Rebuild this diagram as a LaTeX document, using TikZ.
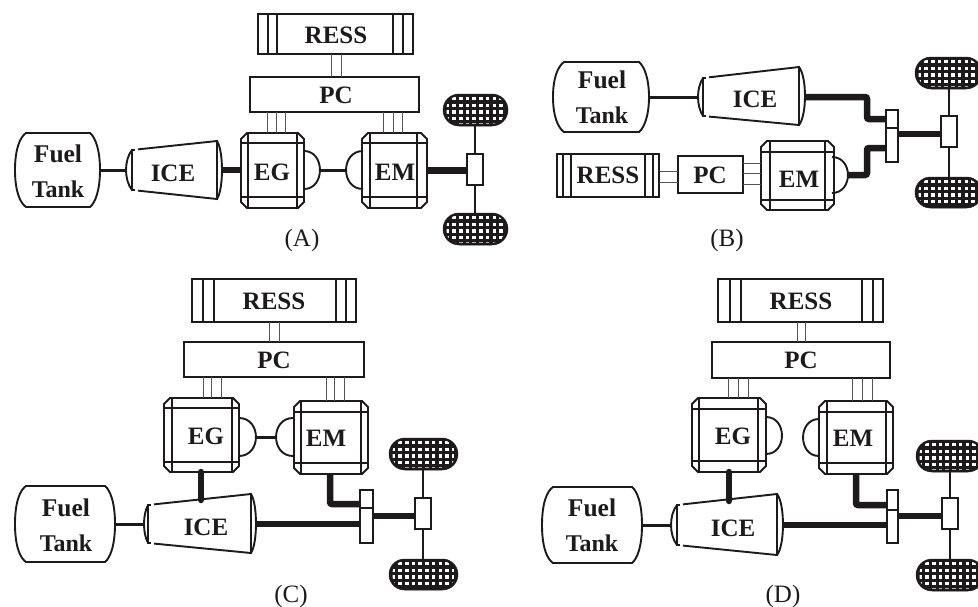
\documentclass[tikz,border=0pt]{standalone}
\usepackage{fontspec}
\setmainfont{Liberation Serif}
\usetikzlibrary{shapes.misc}
\definecolor{ink}{HTML}{1C1A1B}
\tikzset{
  x=1pt,y=-1pt,
  outline/.style={draw=ink,line width=1.9pt},
  wire/.style={draw=ink!75,line width=0.9pt},
  shaftthin/.style={draw=ink,line width=3pt},
  shaftthick/.style={draw=ink,line width=6.5pt,rounded corners=2pt},
  anchorbox/.style={inner sep=0pt,outer sep=0pt},
  lbl/.style={anchor=base,inner sep=0pt,text=ink,font=\fontsize{25}{25}\selectfont\bfseries},
  lblf/.style={lbl,font=\fontsize{25.5}{25}\selectfont\bfseries},
  lblt/.style={lbl,font=\fontsize{24}{24}\selectfont\bfseries},
  captext/.style={anchor=base,inner sep=0pt,text=ink,font=\fontsize{25}{25}\selectfont},
  tyreshape/.style={rounded rectangle,fill=ink,draw=ink,line width=0.5pt,inner sep=0pt,outer sep=0pt},
}
% invisible named block spanning a rectangle
\newcommand\blk[5]{%
  \pgfmathsetmacro\bw{#4-#2}\pgfmathsetmacro\bh{#5-#3}%
  \node[anchorbox,minimum width=\bw pt,minimum height=\bh pt] (#1) at ({(#2+#4)/2},{(#3+#5)/2}) {};}
% plain drawn box: name x1 y1 x2 y2
\newcommand\plainbox[5]{\blk{#1}{#2}{#3}{#4}{#5}\draw[outline] (#2,#3) rectangle (#4,#5);}
% transmission: name x1 y1 x2 y2 ydiv
\newcommand\trans[6]{\plainbox{#1}{#2}{#3}{#4}{#5}\draw[outline] (#2,#6) -- (#4,#6);}
% RESS: name x1 y1 x2 y2 v1 v2 v3 v4
\newcommand\ress[9]{\plainbox{#1}{#2}{#3}{#4}{#5}%
  \draw[outline] (#6,#3)--(#6,#5) (#7,#3)--(#7,#5) (#8,#3)--(#8,#5) (#9,#3)--(#9,#5);}
% fuel tank: name x1 y1 x2 y2
\newcommand\tank[5]{\blk{#1}{#2}{#3}{#4}{#5}%
  \pgfmathsetmacro\tm{(#3+#5)/2}%
  \draw[outline] ({#2+11},#3) -- ({#4-10},#3)
     .. controls ({#4-5},{#3+4}) and (#4,{#3+16}) .. (#4,\tm)
     .. controls (#4,{#5-16}) and ({#4-5},{#5-4}) .. ({#4-10},#5)
     -- ({#2+11},#5)
     .. controls ({#2+5},{#5-4}) and (#2,{#5-16}) .. (#2,\tm)
     .. controls (#2,{#3+16}) and ({#2+5},{#3+4}) .. ({#2+11},#3) -- cycle;
  \draw[draw=ink,line width=2.6pt] ({(#2+#4)/2},#3) -- ({#4-10},#3);}
% machine: name x1 y1 x2 y2 ix1 iy1 ix2 iy2
\newcommand\machine[9]{\blk{#1}{#2}{#3}{#4}{#5}%
  \draw[outline] ({#2+6},#3) -- ({#4-6},#3) -- (#4,{#3+6}) -- (#4,{#5-6}) -- ({#4-6},#5)
     -- ({#2+6},#5) -- (#2,{#5-6}) -- (#2,{#3+6}) -- cycle;
  \draw[outline] (#6,#3)--(#6,#5) (#8,#3)--(#8,#5) (#2,#7)--(#4,#7) (#2,#9)--(#4,#9);}
% dome: name xbase ytop ybot xpeak
\newcommand\dome[5]{%
  \pgfmathsetmacro\dk{#2+1.33*(#5-#2)}%
  \coordinate (#1) at (#5,{(#3+#4)/2});
  \draw[outline] (#2,#3) .. controls (\dk,#3) and (\dk,#4) .. (#2,#4);}
% ICE: name bulgeL xl ytl ybl xr ytr ybr bulgeR
\newcommand\ice[9]{%
  \pgfmathsetmacro\ym{(#4+#5)/2}%
  \pgfmathsetmacro\st{(#7-#4)/(#6-#3)*6}%
  \pgfmathsetmacro\sb{(#8-#5)/(#6-#3)*6}%
  \pgfmathsetmacro\kl{#3+1.33*(#2-#3)}%
  \pgfmathsetmacro\kr{#6+1.33*(#9-#6)}%
  \coordinate (#1L) at (#2,\ym);
  \coordinate (#1R) at (#9,\ym);
  \draw[outline] ({#3+6},{#4+\st}) -- (#6,#7) -- (#6,#8) -- ({#3+6},{#5+\sb});
  \draw[outline] (#6,#7) .. controls (\kr,{#7+10}) and (\kr,{#8-10}) .. (#6,#8);
  \draw[outline] ({#3+2.5},#4) -- (#3,#4) -- (#3,#5) -- ({#3+2.5},#5);
  \draw[outline] (#3,#4) .. controls (\kl,{#4+10}) and (\kl,{#5-10}) .. (#3,#5);}
% tyre: name x1 y1 x2 y2
\newcommand\tyre[5]{%
  \pgfmathsetmacro\bw{#4-#2}\pgfmathsetmacro\bh{#5-#3}%
  \node[tyreshape,minimum width=\bw pt,minimum height=\bh pt] (#1) at ({(#2+#4)/2},{(#3+#5)/2}) {};
  \begin{scope}
    \clip[rounded corners=11pt] ({#2+3.5},{#3+2.5}) rectangle ({#4-3.5},{#5-2.5});
    \foreach \ii in {0,...,9}{\foreach \jj in {0,...,4}{
      \fill[white] ({#2+2.6+\ii*6.7},{#3+2.9+\jj*6.6}) rectangle +(3.5,3.5);}}
  \end{scope}}
% three- or two-wire links
\newcommand\wiresV[3]{\foreach \xx in {#3}{\draw[wire] (\xx,0 |- #1.south) -- (\xx,0 |- #2.north);}}
\newcommand\wiresH[3]{\foreach \yy in {#3}{\draw[wire] (0,\yy -| #1.east) -- (0,\yy -| #2.west);}}
\begin{document}
\begin{tikzpicture}
\clip (0,0) rectangle (978,606);
\useasboundingbox (0,0) rectangle (978,606);
\fill[white] (0,0) rectangle (978,606);

%% ---------- (A)
\ress{ressA}{258}{14}{413}{54}{268}{277}{393}{403}
\plainbox{pcA}{250}{77}{419}{112}
\machine{egA}{241}{133}{304}{208}{248}{143}{297}{197}
\machine{emA}{362}{133}{427}{208}{370}{143}{417}{197}
\dome{egAd}{304}{151}{189}{320}
\dome{emAd}{363}{151}{189}{346}
\tank{tankA}{15}{133}{100}{207}
\ice{iceA}{126}{132}{150}{190}{217}{141}{199}{222}
\plainbox{diffA}{467}{154}{483}{185}
\tyre{tyAt}{443}{94}{508}{126}
\tyre{tyAb}{443}{213}{508}{245}
\wiresV{ressA}{pcA}{331,341}
\wiresV{pcA}{egA}{267,276,285}
\wiresV{pcA}{emA}{383,393,402}
\draw[shaftthin] (tankA.east) -- (iceAL);
\draw[shaftthick] (iceAR) -- (iceAR -| egA.west);
\draw[shaftthin] (egAd) -- (emAd);
\draw[shaftthick] (emA.east) -- (emA.east -| diffA.west);
\draw[outline] (diffA.north) -- (diffA.north |- tyAt.south);
\draw[outline] (diffA.south) -- (diffA.south |- tyAb.north);
\node[lbl] (tRessA) at (336,43) {RESS};
\node[lbl] (tPcA) at (336,103) {PC};
\node[lbl] (tEgA) at (272,180) {EG};
\node[lbl] (tEmA) at (395,180) {EM};
\node[lbl] (tIceA) at (173,181) {ICE};
\node[lblf] (tFuelA) at (58,162) {Fuel};
\node[lblt] (tTankA) at (58,197) {Tank};
\node[captext] (capA) at (302,246) {(A)};

%% ---------- (B)
\tank{tankB}{553}{62}{649}{132}
\ice{iceB}{698}{703}{78}{116}{799}{67}{125}{805}
\ress{ressB}{557}{154}{659}{197}{563}{571}{645}{653}
\plainbox{pcB}{678}{156}{743}{193}
\machine{emB}{761}{141}{834}{210}{770}{152}{825}{200}
\dome{emBd}{832}{157}{193}{848}
\trans{trB}{886}{110}{898}{162}{128}
\plainbox{diffB}{941}{116}{957}{147}
\tyre{tyBt}{915}{57}{982}{89}
\tyre{tyBb}{915}{177}{982}{208}
\draw[shaftthin] (tankB.east) -- (iceBL);
\wiresH{ressB}{pcB}{171,182}
\wiresH{pcB}{emB}{163,173,184}
\coordinate (jB1) at (867,119);
\coordinate (jB2) at (867,148);
\draw[shaftthick] (iceBR) -| (jB1) -- (jB1 -| trB.west);
\draw[shaftthick] (emBd) -| (jB2) -- (jB2 -| trB.west);
\coordinate (jB3) at (898,134);
\draw[shaftthick] (jB3) -- (jB3 -| diffB.west);
\draw[outline] (diffB.north) -- (diffB.north |- tyBt.south);
\draw[outline] (diffB.south) -- (diffB.south |- tyBb.north);
\node[lbl] (tRessB) at (608,183) {RESS};
\node[lbl] (tPcB) at (710,183) {PC};
\node[lbl] (tEmB) at (799,187) {EM};
\node[lbl] (tIceB) at (755,107) {ICE};
\node[lblf] (tFuelB) at (602,88) {Fuel};
\node[lblt] (tTankB) at (602,123) {Tank};
\node[captext] (capB) at (727,246) {(B)};

%% ---------- (C)
\ress{ressC}{192}{279}{356}{322}{203}{214}{336}{346}
\plainbox{pcC}{184}{342}{364}{377}
\machine{egC}{164}{398}{239}{472}{172}{408}{232}{462}
\machine{emC}{294}{401}{368}{474}{301}{412}{361}{463}
\dome{egCd}{239}{418}{456}{256}
\dome{emCd}{293}{418}{456}{276}
\tank{tankC}{15}{486}{115}{562}
\ice{iceC}{144}{148}{505}{543}{251}{494}{553}{256}
\trans{trC}{360}{490}{373}{543}{508}
\plainbox{diffC}{415}{498}{431}{529}
\tyre{tyCt}{389}{438}{458}{470}
\tyre{tyCb}{389}{559}{458}{590}
\wiresV{ressC}{pcC}{269,279}
\wiresV{pcC}{egC}{203,211,221}
\wiresV{pcC}{emC}{326,334,344}
\draw[shaftthin] (tankC.east) -- (iceCL);
\draw[shaftthin] (egCd) -- (emCd);
\coordinate (egoutC) at (201,472);
\coordinate (iceinC) at (201,500);
\draw[shaftthick,line cap=round] (egoutC) -- (iceinC);
\draw[shaftthick] (iceCR) -- (iceCR -| trC.west);
\coordinate (emoutC) at (330,474);
\coordinate (jC1) at (330,504);
\draw[shaftthick] (emoutC) -- (jC1) -- (jC1 -| trC.west);
\coordinate (jC2) at (373,516);
\draw[shaftthick] (jC2) -- (jC2 -| diffC.west);
\draw[outline] (diffC.north) -- (diffC.north |- tyCt.south);
\draw[outline] (diffC.south) -- (diffC.south |- tyCb.north);
\node[lbl] (tRessC) at (274,309) {RESS};
\node[lbl] (tPcC) at (274,368) {PC};
\node[lbl] (tEgC) at (206,444) {EG};
\node[lbl] (tEmC) at (326,446) {EM};
\node[lbl] (tIceC) at (206,535) {ICE};
\node[lblf] (tFuelC) at (66,516) {Fuel};
\node[lblt] (tTankC) at (66,551) {Tank};
\node[captext] (capC) at (291,602) {(C)};

%% ---------- (D)
\ress{ressD}{718}{279}{883}{322}{730}{741}{862}{873}
\plainbox{pcD}{712}{342}{890}{378}
\machine{egD}{692}{398}{766}{472}{699}{409}{758}{461}
\machine{emD}{819}{401}{893}{474}{827}{412}{886}{463}
\dome{egDd}{766}{417}{454}{782}
\dome{emDd}{819}{419}{456}{803}
\tank{tankD}{542}{487}{642}{563}
\ice{iceD}{671}{677}{505}{545}{777}{494}{555}{783}
\trans{trD}{887}{490}{898}{543}{510}
\plainbox{diffD}{942}{498}{958}{529}
\tyre{tyDt}{916}{440}{984}{472}
\tyre{tyDb}{916}{559}{984}{591}
\wiresV{ressD}{pcD}{797,805}
\wiresV{pcD}{egD}{728,738,748}
\wiresV{pcD}{emD}{852,862,872}
\draw[shaftthin] (tankD.east) -- (iceDL);
\coordinate (egoutD) at (729,472);
\coordinate (iceinD) at (729,501);
\draw[shaftthick,line cap=round] (egoutD) -- (iceinD);
\draw[shaftthick] (iceDR) -- (iceDR -| trD.west);
\coordinate (emoutD) at (856,474);
\coordinate (jD1) at (856,505);
\draw[shaftthick] (emoutD) -- (jD1) -- (jD1 -| trD.west);
\coordinate (jD2) at (898,516);
\draw[shaftthick] (jD2) -- (jD2 -| diffD.west);
\draw[outline] (diffD.north) -- (diffD.north |- tyDt.south);
\draw[outline] (diffD.south) -- (diffD.south |- tyDb.north);
\node[lbl] (tRessD) at (801,309) {RESS};
\node[lbl] (tPcD) at (801,368) {PC};
\node[lbl] (tEgD) at (733,444) {EG};
\node[lbl] (tEmD) at (853,446) {EM};
\node[lbl] (tIceD) at (733,536) {ICE};
\node[lblf] (tFuelD) at (592,516) {Fuel};
\node[lblt] (tTankD) at (592,551) {Tank};
\node[captext] (capD) at (783,602) {(D)};
\end{tikzpicture}
\end{document}
